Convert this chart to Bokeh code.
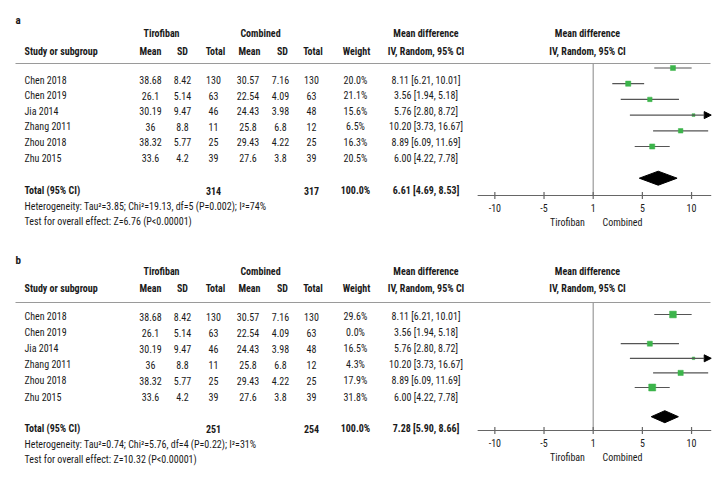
import math
from bokeh.plotting import figure
from bokeh.models import Range1d, ColumnDataSource, Arrow, NormalHead
from bokeh.core.properties import value
from bokeh.embed import file_html
from bokeh.resources import INLINE

# ---------------- data ----------------
studies = ["Chen 2018", "Chen 2019", "Jia 2014", "Zhang 2011", "Zhou 2018", "Zhu 2015"]
tiro_mean = [38.68, 26.1, 30.19, 36, 38.32, 33.6]
tiro_sd = [8.42, 5.14, 9.47, 8.8, 5.77, 4.2]
tiro_n = [130, 63, 46, 11, 25, 39]
comb_mean = [30.57, 22.54, 24.43, 25.8, 29.43, 27.6]
comb_sd = [7.16, 4.09, 3.98, 6.8, 4.22, 3.8]
comb_n = [130, 63, 48, 12, 25, 39]
md = [8.11, 3.56, 5.76, 10.20, 8.89, 6.00]
ci_lo = [6.21, 1.94, 2.80, 3.73, 6.09, 4.22]
ci_hi = [10.01, 5.18, 8.72, 16.67, 11.69, 7.78]

weights_a = [20.0, 21.1, 15.6, 6.5, 16.3, 20.5]
weights_b = [29.6, 0.0, 16.5, 4.3, 17.9, 31.8]

total_tiro_a, total_comb_a = 314, 317
total_tiro_b, total_comb_b = 251, 254
pooled_a = [6.61, 4.69, 8.53]
pooled_b = [7.28, 5.90, 8.66]
het_a = "Heterogeneity: Tau\u00b2=3.85; Chi\u00b2=19.13, df=5 (P=0.002); I\u00b2=74%"
het_b = "Heterogeneity: Tau\u00b2=0.74; Chi\u00b2=5.76, df=4 (P=0.22); I\u00b2=31%"
test_a = "Test for overall effect: Z=6.76 (P<0.00001)"
test_b = "Test for overall effect: Z=10.32 (P<0.00001)"

tick_values = [-10, -5, 0, 5, 10]
tick_labels = ["-10", "-5", "1", "5", "10"]
favours = ["Tirofiban", "Combined"]

# ---------------- styling ----------------
W, H = 728, 479
FONT = "Roboto Condensed"
FS = "10px"
TXT = "#1a1a1a"
GREEN = "#3cb44b"
LINE = "#555555"
GRID = "#9a9a9a"
AX_MIN, AX_MAX = -11.75, 12.0
PX0 = 592.7         # x of mean difference 0
PXU = 9.835         # pixels per unit

p = figure(width=W, height=H, x_range=Range1d(0, W), y_range=Range1d(H, 0),
           x_axis_type=None, y_axis_type=None, output_backend="svg",
           toolbar_location=None, min_border=0)
p.grid.visible = False
p.outline_line_color = None
p.extra_x_ranges = {"md": Range1d(-PX0 / PXU, (W - PX0) / PXU)}


def T(xs, ys, texts, align="left", bold=False, italic=False, size=FS, xr=None):
    if not isinstance(xs, list):
        xs, ys, texts = [xs], [ys], [texts]
    style = "bold" if bold else ("italic" if italic else "normal")
    kw = {}
    if xr is not None:
        kw["x_range_name"] = xr
    src = ColumnDataSource(dict(x=xs, y=ys, t=texts))
    p.text(x="x", y="y", text="t", source=src, text_font=value(FONT),
           text_font_size=size, text_font_style=style, text_color=TXT,
           text_align=align, text_baseline="middle", **kw)


def fmt(v):
    return f"{v:g}"


def panel(label, weights, tot_t, tot_c, pooled, het, test, L, k):
    T(15, L["label"], label, bold=True, size="11px")
    # group headers
    T([161, 260, 425.5, 587], [L["h1"]] * 4,
      ["Tirofiban", "Combined", "Mean difference", "Mean difference"], align="center", bold=True)
    T(24, L["h2"], "Study or subgroup", bold=True)
    T([150, 182, 215, 249, 282, 312.5, 356, 425.5, 587], [L["h2"]] * 9,
      ["Mean", "SD", "Total", "Mean", "SD", "Total", "Weight",
       "IV, Random, 95% CI", "IV, Random, 95% CI"], align="center", bold=True)
    # rule
    p.segment(x0=15, x1=710, y0=L["rule"], y1=L["rule"], line_color=GRID, line_width=1.2)
    # study rows
    ty = [L["ty0"] + i * L["tstep"] for i in range(len(studies))]
    T([24] * len(studies), ty, studies)
    cols = [(150, [fmt(v) for v in tiro_mean]), (182, [fmt(v) for v in tiro_sd]),
            (213, [str(v) for v in tiro_n]), (247.5, [fmt(v) for v in comb_mean]),
            (280, [fmt(v) for v in comb_sd]), (311, [str(v) for v in comb_n]),
            (355, [f"{w:.1f}%" for w in weights]),
            (425.5, [f"{m:.2f} [{a:.2f}, {b:.2f}]" for m, a, b in zip(md, ci_lo, ci_hi)])]
    for cx, vals in cols:
        T([cx] * len(vals), ty, vals, align="center")
    # total row
    T(24, L["tot"], "Total (95% CI)", bold=True)
    T([213, 311, 355, 425.5], [L["tot"]] * 4,
      [str(tot_t), str(tot_c), "100.0%", f"{pooled[0]:.2f} [{pooled[1]:.2f}, {pooled[2]:.2f}]"],
      align="center", bold=True)
    # heterogeneity / test lines
    T(24, L["het"], het)
    T(24, L["test"], test)

    # ---- forest ----
    py = [L["py0"] + i * L["pstep"] for i in range(len(studies))]
    # null line
    p.segment(x0=[0], x1=[0], y0=[L["rule"]], y1=[L["axis"]],
              x_range_name="md", line_color=GRID, line_width=1.2)
    keep = [i for i, w in enumerate(weights) if w > 0]
    inside = [i for i in keep if ci_hi[i] <= AX_MAX]
    clipped = [i for i in keep if ci_hi[i] > AX_MAX]
    p.segment(x0=[ci_lo[i] for i in inside], x1=[ci_hi[i] for i in inside],
              y0=[py[i] for i in inside], y1=[py[i] for i in inside],
              x_range_name="md", line_color=LINE, line_width=1.2)
    for i in clipped:
        p.add_layout(Arrow(end=NormalHead(size=7, fill_color="black", line_color="black"),
                           x_start=ci_lo[i], y_start=py[i], x_end=AX_MAX, y_end=py[i],
                           x_range_name="md", line_color=LINE, line_width=1.2))
    p.scatter(x=[md[i] for i in keep], y=[py[i] for i in keep],
              size=[k * math.sqrt(weights[i]) for i in keep], marker="square",
              x_range_name="md", fill_color=GREEN, line_color=GREEN, line_width=0.5)
    # diamond
    dy = L["dia"]
    hh = L["diah"] / 2
    p.patch(x=[pooled[1], pooled[0], pooled[2], pooled[0]], y=[dy, dy - hh, dy, dy + hh],
            x_range_name="md", fill_color="black", line_color="black")
    # axis
    ay = L["axis"]
    p.segment(x0=[AX_MIN], x1=[AX_MAX], y0=[ay], y1=[ay], x_range_name="md",
              line_color="#666666", line_width=1.2)
    p.segment(x0=tick_values, x1=tick_values, y0=[ay - 3.5] * 5, y1=[ay + 3.5] * 5,
              x_range_name="md", line_color="#666666", line_width=1.2)
    T(tick_values, [L["tick"]] * 5, tick_labels, align="center", xr="md")
    T([567, 622], [L["fav"]] * 2, favours, align="center")


La = dict(label=20, h1=33, h2=51, rule=63, ty0=79.5, tstep=15.6, tot=190, het=206, test=221,
          py0=67.5, pstep=15.7, dia=177.7, diah=14, axis=195, tick=207, fav=222)
Lb = dict(label=260, h1=271, h2=288, rule=302, ty0=316, tstep=16.1, tot=428, het=444, test=459,
          py0=314, pstep=14.6, dia=416.2, diah=12, axis=430, tick=442, fav=457)

panel("a", weights_a, total_tiro_a, total_comb_a, pooled_a, het_a, test_a, La, 1.13)
panel("b", weights_b, total_tiro_b, total_comb_b, pooled_b, het_b, test_b, Lb, 1.24)

open("out.html", "w").write(file_html(p, INLINE))
